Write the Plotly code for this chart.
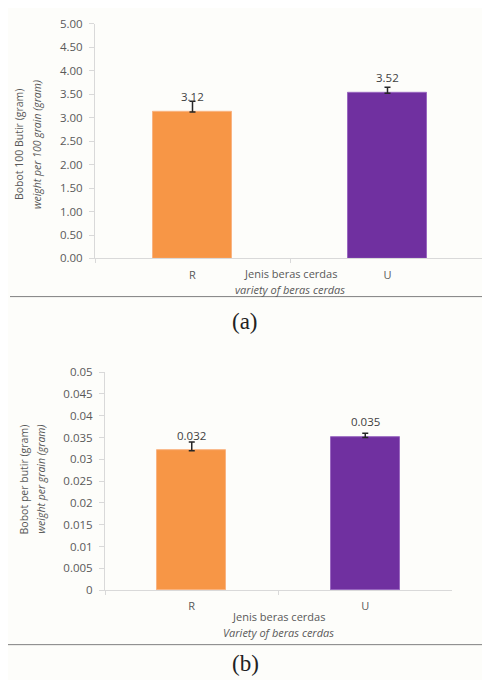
import plotly.graph_objects as go

# page body has an 8px default margin; size the figure to fit inside the window
OFF = 8
W, H = 490 - OFF, 688 - 2 * OFF

# ---- data ----
categories = ["R", "U"]
weight_100 = [3.12, 3.52]
weight_100_err = [0.23, 0.13]
weight_1 = [0.032, 0.035]
weight_1_err = [0.002, 0.001]
labels_100 = ["3.12", "3.52"]
labels_1 = ["0.032", "0.035"]
yticks_a = [0, 0.5, 1.0, 1.5, 2.0, 2.5, 3.0, 3.5, 4.0, 4.5, 5.0]
yticks_b = [0, 0.005, 0.01, 0.015, 0.02, 0.025, 0.03, 0.035, 0.04, 0.045, 0.05]
yticks_b_text = ["0", "0.005", "0.01", "0.015", "0.02", "0.025", "0.03", "0.035", "0.04", "0.045", "0.05"]

colors = ["#F79646", "#7030A0"]
line_colors = ["#F9B482", "#9A68C0"]
grey = "#595959"
axis_grey = "#D9D9D9"
FONT = "Open Sans"


def px(x):
    return min(1.0, max(0.0, (x - OFF) / W))


def py(y):
    return min(1.0, max(0.0, 1 - (y - OFF) / H))


fig = go.Figure()

fig.add_trace(go.Bar(
    x=categories, y=weight_100, xaxis="x", yaxis="y",
    marker=dict(color=colors, line=dict(color=line_colors, width=1)),
    width=0.405,
    error_y=dict(type="data", symmetric=False, array=weight_100_err,
                 arrayminus=[0, 0], color="#262626", thickness=1.5, width=3),
    showlegend=False,
))
fig.add_trace(go.Bar(
    x=categories, y=weight_1, xaxis="x2", yaxis="y2",
    marker=dict(color=colors, line=dict(color=line_colors, width=1)),
    width=0.40,
    error_y=dict(type="data", symmetric=False, array=weight_1_err,
                 arrayminus=[0, 0], color="#262626", thickness=1.5, width=3),
    showlegend=False,
))

tickfont = dict(family=FONT, size=11.5, color=grey)
common_x = dict(type="category", showline=True, linecolor=axis_grey, linewidth=1,
                ticks="outside", tickson="boundaries", ticklen=4, tickcolor=axis_grey,
                showgrid=False, zeroline=False, tickfont=dict(family=FONT, size=11, color=grey),
                range=[-0.5, 1.5], ticklabelstandoff=6)
common_y = dict(showline=True, linecolor=axis_grey, linewidth=1, ticks="outside",
                ticklen=5, tickcolor=axis_grey, showgrid=False, zeroline=False,
                tickfont=tickfont, ticklabelstandoff=4)

fig.update_layout(
    width=W, height=H,
    margin=dict(l=0, r=0, t=0, b=0),
    paper_bgcolor="#FDFDFA", plot_bgcolor="rgba(0,0,0,0)",
    bargap=0,
    xaxis=dict(domain=[px(95), px(485)], anchor="y", **common_x),
    yaxis=dict(domain=[py(256), py(16)], anchor="x", range=[0, 5],
               tickvals=yticks_a, tickformat=".2f", **common_y),
    xaxis2=dict(domain=[px(105), px(452)], anchor="y2", **common_x),
    yaxis2=dict(domain=[py(595.3), py(372.3)], anchor="x2", range=[0, 0.05],
                tickvals=yticks_b, ticktext=yticks_b_text, **common_y),
)

ann = []
# value labels
shifts_a = [-5, 0]
shifts_b = [-3, 2]
for i, c in enumerate(categories):
    ann.append(dict(x=c, y=weight_100[i] + weight_100_err[i], xref="x", yref="y",
                    text=labels_100[i], showarrow=False, yanchor="bottom", yshift=shifts_a[i],
                    font=dict(family=FONT, size=11.5, color="#404040")))
    ann.append(dict(x=c, y=weight_1[i] + weight_1_err[i], xref="x2", yref="y2",
                    text=labels_1[i], showarrow=False, yanchor="bottom", yshift=shifts_b[i],
                    font=dict(family=FONT, size=11.5, color="#404040")))


def txt(x, y, text, size=10, angle=0, family=FONT, color=grey):
    ann.append(dict(x=px(x), y=py(y), xref="paper", yref="paper", text=text,
                    showarrow=False, textangle=angle, xanchor="center", yanchor="middle",
                    font=dict(family=family, size=size, color=color)))


# y titles
txt(19, 140, "Bobot 100 Butir (gram)", size=10.5, angle=-90)
txt(37, 140, "<i>weight per 100 grain (gram)</i>", size=10.5, angle=-90)
txt(24, 482, "Bobot per butir (gram)", size=10.5, angle=-90)
txt(41, 482, "<i>weight per grain (gram)</i>", size=10.5, angle=-90)
# x titles
txt(290, 271, "Jenis beras cerdas", size=11)
txt(290, 287.5, "<i>variety of beras cerdas</i>", size=11)
txt(278, 622, "Jenis beras cerdas", size=11)
txt(278, 638.5, "<i>Variety of beras cerdas</i>", size=11)
# captions
txt(245, 320, "(a)", size=23, family="Liberation Serif", color="#222222")
txt(245, 670, "(b)", size=23, family="Liberation Serif", color="#222222")

fig.update_layout(annotations=ann)

fig.add_shape(type="line", xref="paper", yref="paper", x0=px(10), x1=1,
              y0=py(295), y1=py(295), line=dict(color="#7F7F7F", width=1))
fig.add_shape(type="line", xref="paper", yref="paper", x0=0, x1=1,
              y0=py(651), y1=py(651), line=dict(color="#7F7F7F", width=1))

fig.write_html("out.html")
